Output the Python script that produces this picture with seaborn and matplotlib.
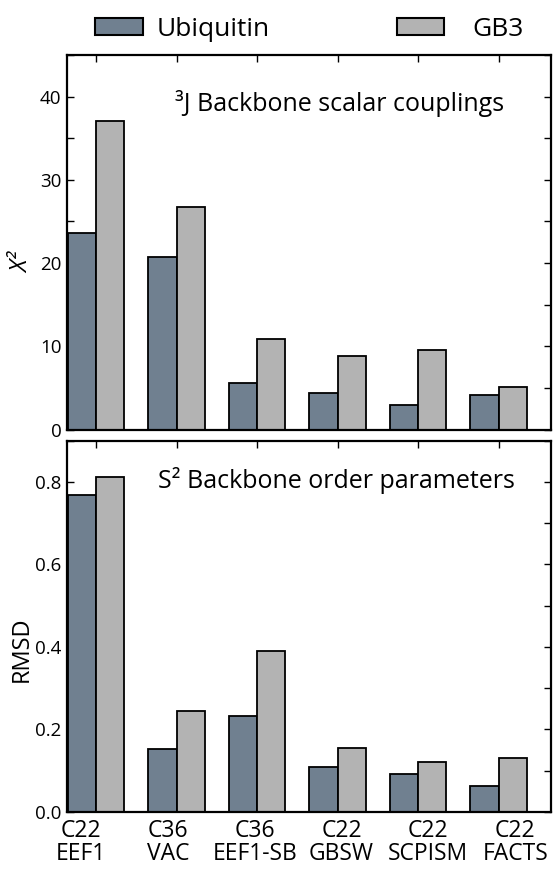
import numpy as np
import pandas as pd
import seaborn as sns
import matplotlib.pyplot as plt
from matplotlib.patches import Patch
from matplotlib.ticker import MultipleLocator, FormatStrFormatter

# Force-field / solvent-model combinations and the two benchmark proteins
methods = ["C22\nEEF1", "C36\nVAC", "C36\nEEF1-SB", "C22\nGBSW", "C22\nSCPISM", "C22\nFACTS"]
proteins = ["Ubiquitin", "GB3"]

# Chi-squared agreement with 3J backbone scalar couplings
chi2_ubiquitin = [23.6, 20.7, 5.6, 4.4, 2.9, 4.2]
chi2_gb3 = [37.1, 26.7, 10.9, 8.8, 9.6, 5.1]

# RMSD against S2 backbone order parameters
rmsd_ubiquitin = [0.768, 0.152, 0.232, 0.110, 0.093, 0.064]
rmsd_gb3 = [0.812, 0.245, 0.390, 0.154, 0.121, 0.132]

colors = {"Ubiquitin": "#708090", "GB3": "#b3b3b3"}


def long_table(ubq, gb3):
    return pd.DataFrame({
        "method": methods * 2,
        "protein": ["Ubiquitin"] * len(methods) + ["GB3"] * len(methods),
        "value": list(ubq) + list(gb3),
    })


sns.set_style("ticks")
plt.rcParams["font.family"] = ["Open Sans", "DejaVu Sans"]
plt.rcParams["axes.linewidth"] = 1.5
for key in ("text.color", "axes.labelcolor", "xtick.color", "ytick.color", "axes.edgecolor"):
    plt.rcParams[key] = "black"

W, H = 555, 869
fig = plt.figure(figsize=(W / 100, H / 100), dpi=100)
ax1 = fig.add_axes([67 / W, 1 - 429.5 / H, 484 / W, 374.5 / H])
ax2 = fig.add_axes([67 / W, 1 - 812 / H, 484 / W, 371.5 / H])

for ax, df in ((ax1, long_table(chi2_ubiquitin, chi2_gb3)),
               (ax2, long_table(rmsd_ubiquitin, rmsd_gb3))):
    sns.barplot(data=df, x="method", y="value", hue="protein",
                hue_order=proteins, palette=colors, saturation=1,
                width=0.7, edgecolor="black", linewidth=1.3,
                legend=False, ax=ax)
    ax.set_xlim(-0.36, 5.65)
    ax.set_xlabel("")
    ax.set_xticks(range(len(methods)))
    ax.set_xticklabels([""] * len(methods))
    ax.tick_params(which="both", direction="in", top=True, right=True,
                   length=5, width=1, labelsize=13.5, pad=4, colors="black")
    for s in ax.spines.values():
        s.set_linewidth(1.6)
        s.set_color("black")

# Upper panel: 3J couplings
ax1.set_ylim(0, 45)
ax1.yaxis.set_major_locator(MultipleLocator(10))
ax1.yaxis.set_minor_locator(MultipleLocator(5))
ax1.set_ylabel("X²", fontsize=17, fontstyle="italic")
ax1.yaxis.set_label_coords(-0.068, 0.445)
ax1.text(0.223, 0.851, "³J Backbone scalar couplings", transform=ax1.transAxes,
         fontsize=18, ha="left", va="baseline")

# Lower panel: S2 order parameters
ax2.set_ylim(0, 0.9)
ax2.yaxis.set_major_locator(MultipleLocator(0.2))
ax2.yaxis.set_minor_locator(MultipleLocator(0.1))
ax2.yaxis.set_major_formatter(FormatStrFormatter("%.1f"))
ax2.set_ylabel("RMSD", fontsize=17)
ax2.yaxis.set_label_coords(-0.068, 0.437)
ax2.text(0.188, 0.873, "S² Backbone order parameters", transform=ax2.transAxes,
         fontsize=18, ha="left", va="baseline")

# Category names sit on an evenly spread row beneath the lower panel
label_x = np.linspace(-0.186, 5.205, len(methods))
ax2.set_xticks(label_x, minor=True)
ax2.set_xticklabels(methods, minor=True, fontsize=16.5, linespacing=0.95)
ax2.tick_params(axis="x", which="minor", length=0, pad=5)

handles = [Patch(facecolor=colors[p], edgecolor="black", linewidth=1.5, label=p)
           for p in proteins]
fig.legend(handles=handles, loc="upper left", bbox_to_anchor=(95 / W, 1 - 17 / H),
           ncol=2, frameon=False, fontsize=19, handlelength=1.8, handleheight=0.6,
           handletextpad=0.55, columnspacing=4.8, borderpad=0, borderaxespad=0)
# Wider gap between the GB3 swatch and its name
leg_texts = fig.legends[0].get_texts()
leg_texts[1].set_position((14, 0))

fig.savefig("out.png", dpi=100)
